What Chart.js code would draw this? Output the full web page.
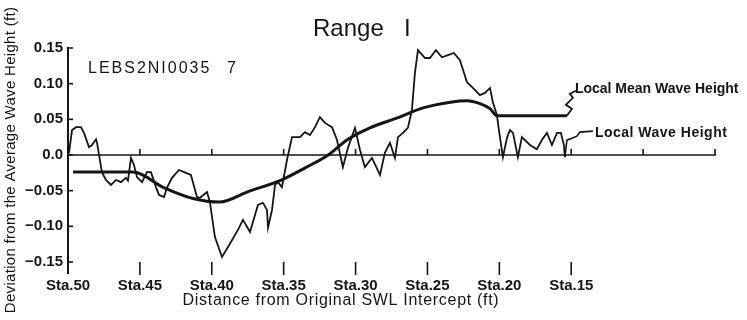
<!DOCTYPE html>
<html>
<head>
<meta charset="utf-8">
<script src="https://cdn.jsdelivr.net/npm/chart.js@4.4.1/dist/chart.umd.min.js"></script>
<style>
  html, body { margin: 0; padding: 0; background: #ffffff; }
  #wrap { width: 747px; height: 320px; }
</style>
</head>
<body>
<div id="wrap"><canvas id="c" width="747" height="320"></canvas></div>
<script>
// Profile stations (distance from original SWL intercept) and local wave height deviation (ft)
const waveSta = [
  49.93, 49.72, 49.44, 49.10, 48.89, 48.54, 48.33, 48.05, 47.98, 47.64,
  47.36, 47.01, 46.66, 46.31, 45.97, 45.83, 45.62, 45.41, 45.20, 44.85,
  44.51, 44.23, 43.88, 43.67, 43.32, 43.12, 42.77, 42.28, 41.79, 41.45,
  41.03, 40.82, 40.33, 40.13, 39.78, 39.29, 38.87, 38.18, 37.83, 37.34,
  36.79, 36.44, 36.16, 36.09, 35.81, 35.60, 35.40, 35.12, 34.77, 34.42,
  33.87, 33.52, 33.17, 32.82, 32.48, 32.13, 31.64, 31.29, 30.88, 30.53,
  30.04, 29.69, 29.35, 28.86, 28.30, 27.96, 27.61, 27.26, 27.05, 26.70,
  26.36, 26.08, 25.87, 25.66, 25.17, 24.83, 24.41, 23.99, 23.57, 23.16,
  22.74, 22.25, 21.84, 21.35, 21.00, 20.65, 20.45, 20.17, 19.96, 19.75,
  19.47, 19.26, 19.05, 18.71, 18.43, 17.87, 17.39, 17.04, 16.69, 16.34,
  15.99, 15.72, 15.51, 15.44
];
const waveDev = [
  0.003, 0.035, 0.039, 0.039, 0.031, 0.011, 0.014, 0.022, 0.017, -0.024,
  -0.035, -0.042, -0.035, -0.038, -0.032, -0.036, -0.004, -0.014, -0.031, -0.038,
  -0.024, -0.024, -0.045, -0.056, -0.059, -0.046, -0.032, -0.021, -0.025, -0.028,
  -0.059, -0.060, -0.052, -0.066, -0.115, -0.143, -0.129, -0.105, -0.091, -0.108,
  -0.070, -0.067, -0.077, -0.102, -0.077, -0.042, -0.038, -0.045, -0.007, 0.025,
  0.025, 0.032, 0.028, 0.039, 0.053, 0.045, 0.039, 0.021, -0.017, 0.010,
  0.038, 0.007, -0.017, -0.004, -0.028, 0.003, 0.017, -0.004, 0.025, 0.031,
  0.038, 0.063, 0.115, 0.147, 0.136, 0.136, 0.147, 0.137, 0.140, 0.143,
  0.133, 0.102, 0.094, 0.084, 0.087, 0.094, 0.074, 0.056, 0.025, -0.003,
  0.024, 0.035, 0.031, -0.003, 0.025, 0.014, 0.008, 0.021, 0.031, 0.014,
  0.031, 0.031, 0.014, -0.003
];

// Local mean wave height deviation (ft)
const meanSta = [49.65, 45.48, 43.30, 41.30, 39.43, 37.55, 35.05, 33.50, 31.90, 30.60,
                 29.00, 27.10, 25.30, 23.40, 22.25, 21.35, 20.65, 20.17, 15.30];
const meanDev = [-0.024, -0.024, -0.046, -0.061, -0.066, -0.052, -0.034, -0.018, 0.000, 0.021,
                 0.038, 0.052, 0.066, 0.074, 0.076, 0.072, 0.065, 0.055, 0.055];

// Axis ticks
const stationTicks = [50, 45, 40, 35, 30, 25, 20, 15];
const railTicks = [45, 40, 35, 30, 25, 20, 15, 10, 5];
const devTicks = [0.15, 0.10, 0.05, 0, -0.05, -0.10, -0.15];
const devLabels = ['0.15', '0.10', '0.05', '0.0', '\u22120.05', '\u22120.10', '\u22120.15'];

const ink = '#151515';
const FAMILY = "'Liberation Sans', Arial, sans-serif";

function pts(xs, ys) { return xs.map((v, i) => ({ x: v, y: ys[i] })); }

function seg(ctx, a, b, c, d) {
  ctx.beginPath(); ctx.moveTo(a, b); ctx.lineTo(c, d); ctx.stroke();
}
function path(ctx, x0, y0, offs) {
  ctx.beginPath();
  offs.forEach(([dx, dy], i) => i ? ctx.lineTo(x0 + dx, y0 + dy) : ctx.moveTo(x0 + dx, y0 + dy));
  ctx.stroke();
}

// Axis decorations, titles and leader labels
const frame = {
  id: 'frame',
  afterDraw(chart) {
    const { ctx, scales: { x, y } } = chart;
    const xl = x.getPixelForValue(50);
    const xr = x.getPixelForValue(5);
    const y0 = y.getPixelForValue(0);
    const yb = y.getPixelForValue(-0.15);
    ctx.save();
    ctx.strokeStyle = ink;
    ctx.fillStyle = ink;
    ctx.lineCap = 'butt';

    // inward ticks on the deviation axis
    ctx.lineWidth = 1.6;
    devTicks.forEach(v => { const p = y.getPixelForValue(v); seg(ctx, xl - 1, p, xl + 5, p); });

    // axis stem below the plot and station ticks
    ctx.lineWidth = 2;
    seg(ctx, xl, yb, xl, yb + 12);
    ctx.lineWidth = 1.6;
    stationTicks.slice(1).forEach(s => { const p = x.getPixelForValue(s); seg(ctx, p, yb, p, yb + 13); });

    // zero reference line with station ticks
    ctx.lineWidth = 1.6;
    seg(ctx, xl, y0, xr + 1, y0);
    railTicks.forEach(s => { const p = x.getPixelForValue(s); seg(ctx, p, y0, p, y0 - 6); });

    // titles
    ctx.textBaseline = 'alphabetic';
    ctx.textAlign = 'left';
    ctx.font = `24px ${FAMILY}`;
    ctx.fillText('Range', 313, 36);
    ctx.fillText('I', 404, 36);

    ctx.font = `16px ${FAMILY}`;
    ctx.letterSpacing = '2px';
    ctx.fillText('LEBS2NI0035', 88, 73);
    ctx.fillText('7', 227, 73);

    ctx.font = `16px ${FAMILY}`;
    ctx.letterSpacing = '0.7px';
    ctx.textAlign = 'center';
    ctx.textBaseline = 'middle';
    ctx.fillText('Distance from Original SWL Intercept (ft)', 341, 301);

    ctx.save();
    ctx.translate(11, 160);
    ctx.rotate(-Math.PI / 2);
    ctx.font = `15px ${FAMILY}`;
    ctx.letterSpacing = '0.3px';
    ctx.fillText('Deviation from the Average Wave Height (ft)', 0, 0);
    ctx.restore();

    // leader for the local mean wave height
    const mx = x.getPixelForValue(meanSta[meanSta.length - 1]);
    const my = y.getPixelForValue(meanDev[meanDev.length - 1]);
    ctx.lineWidth = 1.8;
    path(ctx, mx, my, [[0, 0], [5, -7], [-1, -11], [6, -18], [3, -22], [9, -25]]);
    ctx.font = `bold 14px ${FAMILY}`;
    ctx.letterSpacing = '0px';
    ctx.textAlign = 'left';
    ctx.fillText('Local Mean Wave Height', mx + 8, my - 27);

    // leader for the local wave height
    const wx = x.getPixelForValue(waveSta[waveSta.length - 1]);
    const wy = y.getPixelForValue(waveDev[waveDev.length - 1]);
    ctx.lineWidth = 1.6;
    path(ctx, wx, wy, [[0, 0], [2, -17], [7, -19], [12, -21], [15, -25], [28, -26]]);
    ctx.letterSpacing = '0.5px';
    ctx.fillText('Local Wave Height', wx + 30, wy - 24);
    ctx.letterSpacing = '0px';

    ctx.restore();
  }
};

new Chart(document.getElementById('c'), {
  type: 'line',
  data: {
    datasets: [
      {
        label: 'Local Wave Height',
        data: pts(waveSta, waveDev),
        borderColor: ink,
        borderWidth: 1.8,
        pointRadius: 0,
        tension: 0,
        fill: false
      },
      {
        label: 'Local Mean Wave Height',
        data: pts(meanSta, meanDev),
        borderColor: ink,
        borderWidth: 3,
        pointRadius: 0,
        cubicInterpolationMode: 'monotone',
        fill: false
      }
    ]
  },
  options: {
    responsive: false,
    animation: false,
    devicePixelRatio: 1,
    layout: { padding: { top: 48, right: 32, left: 0, bottom: 0 } },
    plugins: { legend: { display: false }, tooltip: { enabled: false }, title: { display: false } },
    scales: {
      x: {
        type: 'linear',
        min: 5,
        max: 50,
        reverse: true,
        border: { display: false },
        grid: { display: false, drawTicks: false },
        afterBuildTicks: s => { s.ticks = stationTicks.map(v => ({ value: v })); },
        afterFit: s => { s.height = 58; },
        ticks: {
          autoSkip: false,
          maxRotation: 0,
          padding: 15,
          color: ink,
          font: { family: FAMILY, size: 15, weight: 'bold' },
          callback: v => 'Sta.' + v
        }
      },
      y: {
        type: 'linear',
        min: -0.15,
        max: 0.15,
        border: { display: true, color: ink, width: 2 },
        grid: { display: false, drawTicks: false },
        afterBuildTicks: s => { s.ticks = devTicks.map(v => ({ value: v })); },
        afterFit: s => { s.width = 68; },
        ticks: {
          padding: 5,
          color: ink,
          font: { family: FAMILY, size: 15, weight: 'bold' },
          callback: v => devLabels[devTicks.indexOf(v)]
        }
      }
    }
  },
  plugins: [frame]
});
</script>
</body>
</html>
